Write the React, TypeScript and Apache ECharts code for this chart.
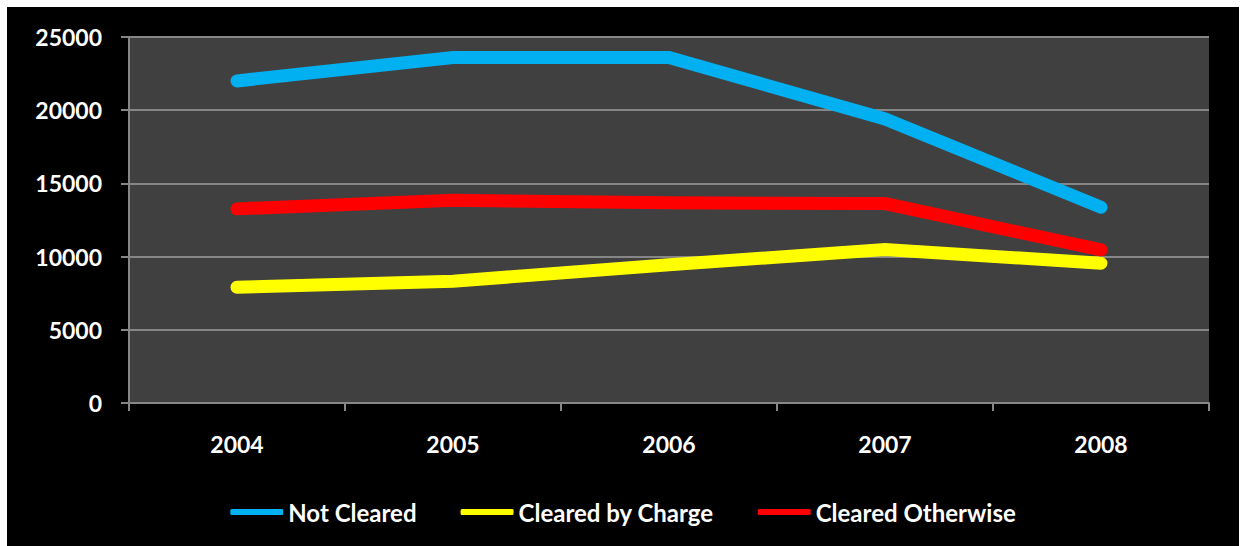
import React, { useEffect, useRef } from "react";
import * as echarts from "echarts";

const years = ["2004", "2005", "2006", "2007", "2008"];
const notCleared = [22000, 23600, 23600, 19400, 13370];
const clearedByCharge = [7910, 8320, 9440, 10480, 9550];
const clearedOtherwise = [13260, 13850, 13670, 13620, 10460];
const yTicks = { min: 0, max: 25000, interval: 5000 };

const FONT = "Lato";

export default function App() {
  const ref = useRef<HTMLDivElement>(null);
  useEffect(() => {
    if (!ref.current) return;
    const chart = echarts.init(ref.current, undefined, { renderer: "svg" });
    const mk = (name: string, data: number[], color: string) => ({
      name,
      type: "line",
      data,
      symbol: "none",
      smooth: false,
      lineStyle: { color, width: 13, cap: "round", join: "miter" },
      itemStyle: { color },
    });
    chart.setOption({
      animation: false,
      backgroundColor: "#000000",
      textStyle: { fontFamily: FONT },
      grid: {
        left: 122,
        right: 30,
        top: 30,
        bottom: 143,
        show: true,
        backgroundColor: "#404040",
        borderWidth: 0,
      },
      legend: {
        bottom: 17,
        left: "center",
        itemGap: 44,
        itemWidth: 53,
        itemHeight: 6,
        icon: "roundRect",
        textStyle: { color: "#ffffff", fontSize: 24, fontWeight: "bold", fontFamily: FONT },
        data: ["Not Cleared", "Cleared by Charge", "Cleared Otherwise"],
      },
      xAxis: {
        type: "category",
        data: years,
        boundaryGap: true,
        axisLine: { show: true, lineStyle: { color: "#868686", width: 2 } },
        axisTick: { show: true, length: 8, lineStyle: { color: "#868686", width: 2 } },
        axisLabel: { color: "#ffffff", fontSize: 23, fontWeight: "bold", fontFamily: FONT, margin: 29 },
        splitLine: { show: false },
      },
      yAxis: {
        type: "value",
        min: yTicks.min,
        max: yTicks.max,
        interval: yTicks.interval,
        axisLine: { show: true, lineStyle: { color: "#868686", width: 2 } },
        axisTick: { show: true, length: 8, lineStyle: { color: "#868686", width: 2 } },
        axisLabel: {
          color: "#ffffff",
          fontSize: 23,
          fontWeight: "bold",
          fontFamily: FONT,
          margin: 27,
          formatter: (v: number) => String(v),
        },
        splitLine: { show: true, lineStyle: { color: "#868686", width: 2 } },
      },
      series: [
        mk("Not Cleared", notCleared, "#00B0F0"),
        mk("Cleared by Charge", clearedByCharge, "#FFFF00"),
        mk("Cleared Otherwise", clearedOtherwise, "#FF0000"),
      ],
    });
    return () => chart.dispose();
  }, []);
  return (
    <div style={{ position: "fixed", left: 0, top: 0, width: 1244, height: 546, background: "#ffffff" }}>
      <div ref={ref} style={{ position: "absolute", left: 7, top: 7, width: 1232, height: 539 }} />
    </div>
  );
}
